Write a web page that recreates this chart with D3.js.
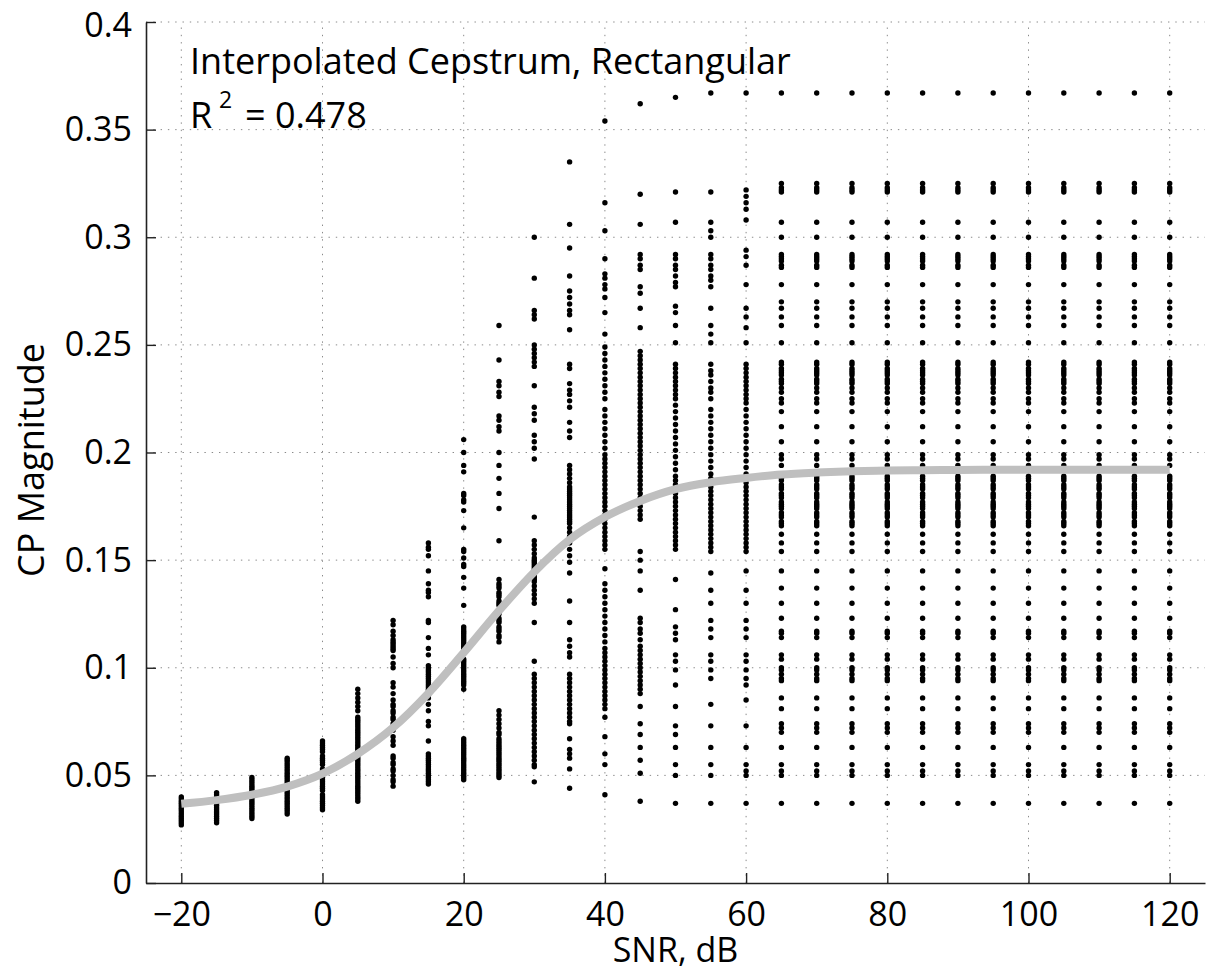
<!DOCTYPE html>
<html>
<head>
<meta charset="utf-8">
<script src="https://cdn.jsdelivr.net/npm/d3@7.9.0/dist/d3.min.js"></script>
<style>
  html, body { margin: 0; padding: 0; background: #fff; }
  svg { display: block; font-family: "Open Sans", "DejaVu Sans", sans-serif; }
</style>
</head>
<body>
<svg id="chart" width="1216" height="976"></svg>
<script>
// SNR levels (dB) where the measurements were taken
const snrLevels = [-20, -15, -10, -5, 0, 5, 10, 15, 20, 25, 30, 35, 40, 45, 50, 55, 60,
  65, 70, 75, 80, 85, 90, 95, 100, 105, 110, 115, 120];

// CP magnitude values per SNR column
const colM20 = [0.040, 0.039, 0.038, 0.037, 0.036, 0.035, 0.034, 0.033, 0.032, 0.031, 0.030, 0.029, 0.028, 0.027];
const colM15 = [0.042, 0.041, 0.040, 0.039, 0.038, 0.037, 0.036, 0.035, 0.034, 0.033, 0.032, 0.031, 0.030, 0.029, 0.028];
const colM10 = [0.049, 0.048, 0.047, 0.046, 0.045, 0.044, 0.043, 0.042, 0.041, 0.040, 0.039, 0.038, 0.037, 0.036,
  0.035, 0.034, 0.033, 0.032, 0.031, 0.030];
const colM5 = [0.058, 0.057, 0.056, 0.055, 0.054, 0.053, 0.052, 0.051, 0.050, 0.049, 0.048, 0.047, 0.046, 0.045,
  0.044, 0.043, 0.042, 0.041, 0.040, 0.039, 0.038, 0.037, 0.036, 0.035, 0.034, 0.033, 0.032];
const col0 = [0.066, 0.065, 0.064, 0.063, 0.062, 0.061, 0.059, 0.058, 0.057, 0.056, 0.055, 0.053, 0.052, 0.051,
  0.050, 0.049, 0.048, 0.047, 0.046, 0.045, 0.044, 0.043, 0.041, 0.040, 0.039, 0.038, 0.037, 0.036, 0.035, 0.034];
const col5 = [0.090, 0.088, 0.086, 0.084, 0.082, 0.080, 0.077, 0.076, 0.075, 0.074, 0.073, 0.072, 0.071, 0.070,
  0.069, 0.068, 0.067, 0.066, 0.065, 0.064, 0.063, 0.062, 0.061, 0.060, 0.059, 0.058, 0.057, 0.056, 0.055, 0.054,
  0.053, 0.052, 0.051, 0.050, 0.049, 0.048, 0.047, 0.046, 0.045, 0.044, 0.043, 0.042, 0.041, 0.040, 0.039, 0.038];
const col10 = [0.122, 0.120, 0.117, 0.115, 0.113, 0.112, 0.111, 0.110, 0.109, 0.108, 0.105, 0.102, 0.100, 0.093,
  0.091, 0.088, 0.085, 0.083, 0.082, 0.080, 0.079, 0.077, 0.076, 0.074, 0.071, 0.068, 0.066, 0.064, 0.059, 0.058,
  0.056, 0.055, 0.053, 0.052, 0.050, 0.048, 0.047, 0.045];
const col15 = [0.158, 0.156, 0.155, 0.152, 0.145, 0.139, 0.136, 0.135, 0.133, 0.122, 0.121, 0.114, 0.109, 0.106,
  0.101, 0.100, 0.099, 0.098, 0.097, 0.096, 0.095, 0.094, 0.093, 0.092, 0.091, 0.090, 0.089, 0.088, 0.087, 0.086,
  0.083, 0.080, 0.075, 0.073, 0.066, 0.060, 0.059, 0.058, 0.057, 0.056, 0.055, 0.054, 0.053, 0.052, 0.051, 0.050,
  0.049, 0.048, 0.047, 0.046];
const col20 = [0.206, 0.200, 0.194, 0.191, 0.181, 0.180, 0.178, 0.177, 0.173, 0.165, 0.155, 0.154, 0.151, 0.148,
  0.147, 0.142, 0.137, 0.129, 0.119, 0.118, 0.117, 0.116, 0.115, 0.114, 0.113, 0.112, 0.111, 0.110, 0.109, 0.108,
  0.107, 0.104, 0.103, 0.102, 0.101, 0.100, 0.099, 0.098, 0.097, 0.096, 0.095, 0.094, 0.093, 0.092, 0.090,
  0.067, 0.066, 0.065, 0.064, 0.063, 0.062, 0.061, 0.060, 0.059, 0.058, 0.057, 0.056, 0.055, 0.054, 0.053, 0.052,
  0.051, 0.050, 0.049, 0.048];
const col25 = [0.259, 0.243, 0.233, 0.231, 0.228, 0.226, 0.217, 0.215, 0.212, 0.210, 0.200, 0.194, 0.188, 0.181,
  0.174, 0.159, 0.141, 0.139, 0.138, 0.137, 0.135, 0.134, 0.133, 0.131, 0.130, 0.129, 0.127, 0.126, 0.125, 0.123,
  0.122, 0.121, 0.119, 0.118, 0.117, 0.115, 0.114, 0.112, 0.080, 0.078, 0.076, 0.074, 0.072, 0.070, 0.069, 0.067,
  0.066, 0.065, 0.064, 0.063, 0.062, 0.061, 0.060, 0.059, 0.058, 0.057, 0.056, 0.055, 0.054, 0.053, 0.052, 0.051,
  0.050, 0.049];
const col30 = [0.300, 0.281, 0.266, 0.264, 0.262, 0.250, 0.248, 0.246, 0.244, 0.242, 0.240, 0.231, 0.221, 0.218,
  0.215, 0.208, 0.205, 0.202, 0.197, 0.170, 0.159, 0.157, 0.155, 0.153, 0.151, 0.150, 0.149, 0.148, 0.147, 0.146,
  0.145, 0.144, 0.143, 0.142, 0.141, 0.140, 0.138, 0.136, 0.134, 0.132, 0.130, 0.121, 0.103, 0.097, 0.095, 0.093,
  0.091, 0.089, 0.087, 0.085, 0.083, 0.081, 0.079, 0.077, 0.075, 0.073, 0.071, 0.069, 0.067, 0.065, 0.063, 0.061,
  0.059, 0.057, 0.055, 0.054, 0.047];
const col35 = [0.335, 0.306, 0.295, 0.282, 0.275, 0.272, 0.269, 0.266, 0.264, 0.257, 0.241, 0.239, 0.232, 0.229,
  0.227, 0.224, 0.221, 0.214, 0.210, 0.207, 0.194, 0.192, 0.190, 0.188, 0.186, 0.184, 0.183, 0.182, 0.181, 0.180,
  0.179, 0.178, 0.177, 0.176, 0.175, 0.174, 0.173, 0.172, 0.171, 0.170, 0.169, 0.168, 0.167, 0.165, 0.163, 0.161,
  0.158, 0.155, 0.152, 0.149, 0.144, 0.131, 0.121, 0.113, 0.110, 0.107, 0.105, 0.097, 0.095, 0.093, 0.091, 0.089,
  0.087, 0.085, 0.083, 0.081, 0.079, 0.077, 0.075, 0.074, 0.067, 0.062, 0.060, 0.058, 0.053, 0.044];
const col40 = [0.354, 0.316, 0.303, 0.290, 0.283, 0.281, 0.278, 0.276, 0.272, 0.265, 0.255, 0.249, 0.246, 0.243,
  0.240, 0.237, 0.234, 0.231, 0.228, 0.225, 0.220, 0.217, 0.214, 0.211, 0.208, 0.205, 0.202, 0.199, 0.197, 0.195,
  0.193, 0.191, 0.189, 0.187, 0.185, 0.183, 0.181, 0.179, 0.177, 0.175, 0.173, 0.171, 0.169, 0.167, 0.165, 0.163,
  0.161, 0.159, 0.157, 0.155, 0.146, 0.139, 0.136, 0.133, 0.130, 0.127, 0.124, 0.121, 0.118, 0.115, 0.112, 0.109,
  0.107, 0.105, 0.103, 0.101, 0.099, 0.097, 0.095, 0.093, 0.091, 0.089, 0.087, 0.085, 0.083, 0.081, 0.077, 0.068,
  0.060, 0.055, 0.041];
const col45 = [0.362, 0.320, 0.306, 0.292, 0.290, 0.287, 0.285, 0.277, 0.274, 0.267, 0.258, 0.247, 0.245, 0.243,
  0.241, 0.239, 0.237, 0.235, 0.233, 0.231, 0.229, 0.227, 0.225, 0.223, 0.221, 0.219, 0.217, 0.215, 0.213, 0.211,
  0.209, 0.207, 0.205, 0.203, 0.201, 0.199, 0.197, 0.195, 0.193, 0.191, 0.189, 0.187, 0.185, 0.183, 0.181, 0.179,
  0.177, 0.175, 0.173, 0.171, 0.169, 0.154, 0.150, 0.145, 0.136, 0.123, 0.121, 0.118, 0.116, 0.113, 0.110, 0.108,
  0.106, 0.104, 0.102, 0.100, 0.098, 0.096, 0.094, 0.092, 0.090, 0.088, 0.082, 0.074, 0.069, 0.063, 0.057, 0.051,
  0.038];
const col50 = [0.365, 0.321, 0.307, 0.292, 0.290, 0.287, 0.285, 0.282, 0.279, 0.277, 0.268, 0.265, 0.259, 0.251,
  0.241, 0.239, 0.237, 0.235, 0.233, 0.231, 0.229, 0.227, 0.225, 0.222, 0.219, 0.216, 0.213, 0.210, 0.207, 0.204,
  0.201, 0.198, 0.195, 0.192, 0.189, 0.187, 0.185, 0.183, 0.181, 0.179, 0.177, 0.175, 0.173, 0.171, 0.169, 0.167,
  0.165, 0.163, 0.161, 0.159, 0.157, 0.155, 0.141, 0.127, 0.119, 0.116, 0.113, 0.106, 0.103, 0.099, 0.092, 0.082,
  0.073, 0.069, 0.063, 0.055, 0.050, 0.037];
const col55 = [0.367, 0.321, 0.307, 0.303, 0.300, 0.292, 0.290, 0.287, 0.285, 0.282, 0.280, 0.277, 0.267, 0.259,
  0.255, 0.251, 0.241, 0.238, 0.236, 0.233, 0.230, 0.228, 0.225, 0.220, 0.217, 0.214, 0.211, 0.208, 0.205, 0.202,
  0.199, 0.196, 0.193, 0.190, 0.188, 0.186, 0.184, 0.182, 0.180, 0.178, 0.176, 0.174, 0.172, 0.170, 0.168, 0.166,
  0.164, 0.162, 0.160, 0.158, 0.156, 0.154, 0.144, 0.136, 0.130, 0.122, 0.118, 0.114, 0.106, 0.103, 0.099, 0.095,
  0.083, 0.073, 0.063, 0.055, 0.050, 0.037];
const col60 = [0.367, 0.322, 0.319, 0.316, 0.313, 0.308, 0.294, 0.291, 0.287, 0.278, 0.267, 0.263, 0.258, 0.251,
  0.241, 0.239, 0.237, 0.235, 0.233, 0.231, 0.229, 0.227, 0.225, 0.223, 0.220, 0.217, 0.214, 0.211, 0.208, 0.205,
  0.202, 0.199, 0.196, 0.193, 0.190, 0.188, 0.186, 0.184, 0.182, 0.180, 0.178, 0.176, 0.174, 0.172, 0.170, 0.168,
  0.166, 0.164, 0.162, 0.160, 0.158, 0.156, 0.154, 0.145, 0.136, 0.130, 0.122, 0.118, 0.114, 0.106, 0.103, 0.099,
  0.095, 0.092, 0.085, 0.073, 0.063, 0.055, 0.052, 0.050, 0.037];
// from 65 dB upward every column shows the same set of values
const colPlateau = [0.367, 0.325, 0.323, 0.322, 0.321, 0.307, 0.300, 0.292, 0.291, 0.290, 0.289, 0.287, 0.286,
  0.278, 0.270, 0.267, 0.263, 0.259, 0.251, 0.242, 0.241, 0.239, 0.238, 0.237, 0.236, 0.234, 0.233, 0.232, 0.230,
  0.228, 0.225, 0.223, 0.219, 0.212, 0.205, 0.199, 0.197, 0.194, 0.189, 0.188, 0.187, 0.185, 0.184, 0.183, 0.181,
  0.180, 0.179, 0.177, 0.176, 0.175, 0.174, 0.172, 0.171, 0.170, 0.168, 0.167, 0.166, 0.162, 0.158, 0.154, 0.145,
  0.137, 0.130, 0.123, 0.117, 0.116, 0.114, 0.106, 0.104, 0.100, 0.099, 0.097, 0.095, 0.094, 0.086, 0.081, 0.074,
  0.072, 0.070, 0.063, 0.055, 0.052, 0.050, 0.037];

const cpColumns = [colM20, colM15, colM10, colM5, col0, col5, col10, col15, col20, col25, col30, col35,
  col40, col45, col50, col55, col60,
  colPlateau, colPlateau, colPlateau, colPlateau, colPlateau, colPlateau,
  colPlateau, colPlateau, colPlateau, colPlateau, colPlateau, colPlateau];

// fitted curve (grey), read at each SNR level
const fitCp = [0.0368, 0.0385, 0.0410, 0.0448, 0.0508, 0.0600, 0.0722, 0.0882, 0.1070, 0.1265, 0.1445, 0.1595,
  0.1700, 0.1775, 0.1830, 0.1862, 0.1882, 0.1898, 0.1907, 0.1913, 0.1916, 0.1918, 0.1919, 0.1920, 0.1920,
  0.1920, 0.1920, 0.1920, 0.1920];

// tick values
const xTicks = [-20, 0, 20, 40, 60, 80, 100, 120];
const yTicks = [0, 0.05, 0.1, 0.15, 0.2, 0.25, 0.3, 0.35, 0.4];

const titleText = 'Interpolated Cepstrum, Rectangular';
const r2Text = '= 0.478';

// ---- layout ----
const svg = d3.select('#chart');
const plotLeft = 146, plotRight = 1205, plotTop = 22, plotBottom = 883;

const x = d3.scaleLinear().domain([-25, 125]).range([plotLeft, plotRight]);
const y = d3.scaleLinear().domain([0, 0.4]).range([plotBottom, plotTop]);

// grid (dotted)
const grid = svg.append('g')
  .attr('stroke', '#8a8a8a')
  .attr('stroke-width', 1)
  .attr('stroke-dasharray', '1.4,5.9');

grid.selectAll('line.gx').data(xTicks).join('line')
  .attr('class', 'gx')
  .attr('x1', d => x(d)).attr('x2', d => x(d))
  .attr('y1', plotBottom).attr('y2', plotTop);

grid.selectAll('line.gy').data(yTicks.slice(1)).join('line')
  .attr('class', 'gy')
  .attr('x1', plotLeft).attr('x2', plotRight)
  .attr('y1', d => y(d)).attr('y2', d => y(d));

// scatter points
const points = [];
snrLevels.forEach((s, i) => {
  cpColumns[i].forEach(v => points.push({ snr: s, cp: v }));
});

svg.append('g')
  .selectAll('circle')
  .data(points)
  .join('circle')
  .attr('cx', d => x(d.snr))
  .attr('cy', d => y(d.cp))
  .attr('r', 2.7)
  .attr('fill', '#000');

// fitted curve on top
const line = d3.line()
  .x((d, i) => x(snrLevels[i]))
  .y(d => y(d))
  .curve(d3.curveMonotoneX);

svg.append('path')
  .attr('d', line(fitCp))
  .attr('fill', 'none')
  .attr('stroke', '#bfbfbf')
  .attr('stroke-width', 8);

// axes
const xAxis = d3.axisBottom(x)
  .tickValues(xTicks)
  .tickSizeInner(-10)
  .tickSizeOuter(0)
  .tickPadding(19);

const yAxis = d3.axisLeft(y)
  .tickValues(yTicks)
  .tickFormat(d => String(+d.toFixed(2)))
  .tickSizeInner(-10)
  .tickSizeOuter(0)
  .tickPadding(14);

const gx = svg.append('g')
  .attr('transform', `translate(0,${plotBottom})`)
  .call(xAxis);

const gy = svg.append('g')
  .attr('transform', `translate(${plotLeft},0)`)
  .call(yAxis);

[gx, gy].forEach(g => {
  g.select('.domain').attr('stroke', '#222').attr('stroke-width', 1.6);
  g.selectAll('.tick line').attr('stroke', '#222').attr('stroke-width', 1.4);
  g.selectAll('.tick text')
    .attr('fill', '#000')
    .style('font-family', '"Open Sans", sans-serif')
    .style('font-size', '34px');
});
// keep the top label inside the page
gy.selectAll('.tick text').filter(d => d === 0.4).attr('dy', '0.42em');

// axis labels
svg.append('text')
  .attr('x', (plotLeft + plotRight) / 2)
  .attr('y', 962)
  .attr('text-anchor', 'middle')
  .style('font-size', '34px')
  .text('SNR, dB');

svg.append('text')
  .attr('transform', `translate(44,460) rotate(-90)`)
  .attr('text-anchor', 'middle')
  .style('font-size', '36px')
  .text('CP Magnitude');

// annotation text
svg.append('text')
  .attr('x', 190)
  .attr('y', 74)
  .style('font-size', '36px')
  .text(titleText);

const r2 = svg.append('text')
  .attr('y', 128)
  .style('font-size', '36px');
r2.append('tspan').attr('x', 190).text('R');
r2.append('tspan').attr('x', 219).attr('dy', -20).style('font-size', '23px').text('2');
r2.append('tspan').attr('x', 245).attr('dy', 20).text(r2Text);
</script>
</body>
</html>
